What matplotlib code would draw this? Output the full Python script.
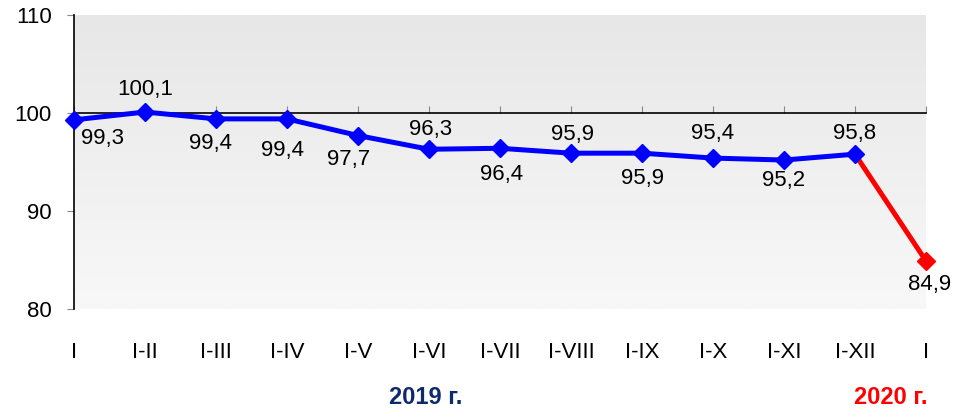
import numpy as np
import matplotlib
matplotlib.use('Agg')
import matplotlib.pyplot as plt
from matplotlib.colors import LinearSegmentedColormap

plt.rcParams['font.family'] = ['Liberation Sans', 'DejaVu Sans']

# data
periods = ['I', 'I-II', 'I-III', 'I-IV', 'I-V', 'I-VI', 'I-VII', 'I-VIII',
           'I-IX', 'I-X', 'I-XI', 'I-XII', 'I']
values_2019 = [99.3, 100.1, 99.4, 99.4, 97.7, 96.3, 96.4, 95.9, 95.9, 95.4, 95.2, 95.8]
values_2020 = [84.9]
y_ticks = [80, 90, 100, 110]

# where each value label goes (pixel offsets from the point)
label_offsets = [(28, -19), (0, 23), (-5, -25), (-4, -32), (-9, -24), (2, 20),
                 (2, -26), (2, 19), (0, -25), (0, 25), (0, -20), (0, 21), (4, -24)]

x = np.arange(len(periods))
x19 = x[:len(values_2019)]
x20 = x[len(values_2019):]

fig = plt.figure(figsize=(9.56, 4.12), dpi=100)
ax = fig.add_axes([74/956, 1-309/412, (926-74)/956, (309-15)/412])

# gradient background
grad = np.linspace(0, 1, 256).reshape(-1, 1)
cmap = LinearSegmentedColormap.from_list('bg', ['#e7e7e7', '#f8f8f8'])
ax.imshow(grad, extent=[0, 12, 80, 110], aspect='auto', cmap=cmap, origin='upper', zorder=0)

ax.set_xlim(0, 12)
ax.set_ylim(80, 110)

# red segment 2019 -> 2020
ax.plot([x19[-1], x20[0]], [values_2019[-1], values_2020[0]], color='#ff0000', lw=3.6,
        zorder=3, solid_capstyle='butt', clip_on=False)
ax.plot(x20, values_2020, 'D', color='#ff0000', ms=9, zorder=4, clip_on=False)
ax.plot(x19, values_2019, '-D', color='#0000ff', lw=3.6, ms=9, zorder=5, clip_on=False)

all_vals = values_2019 + values_2020
for xi, v, off in zip(x, all_vals, label_offsets):
    ax.annotate(('%.1f' % v).replace('.', ','), (xi, v), xytext=off,
                textcoords='offset pixels', ha='center', va='center',
                fontsize=16, color='#000000', zorder=6, annotation_clip=False)

# spines / ticks
for s in ['top', 'right', 'bottom']:
    ax.spines[s].set_visible(False)
ax.spines['left'].set_color('black')
ax.spines['left'].set_linewidth(1.2)
ax.set_yticks(y_ticks)
ax.tick_params(axis='y', direction='out', length=5, color='#888888', labelsize=16, pad=11)
ax.set_xticks(x)
ax.set_xticklabels(periods)
ax.tick_params(axis='x', length=0, labelsize=16, pad=24)

# horizontal axis line at 100 with up-pointing ticks
sec = ax.secondary_xaxis((100 - 80) / 30)
sec.set_xticks(x)
sec.tick_params(direction='out', length=5, color='#888888', labeltop=False, labelbottom=False)
sec.spines['top'].set_color('black')
sec.spines['top'].set_linewidth(1.2)
sec.spines['bottom'].set_visible(False)

fig.text(426/956, 1-397/412, '2019 г.', color='#0d2a6b', fontsize=17, fontweight='bold',
         ha='center', va='center')
fig.text(891/956, 1-397/412, '2020 г.', color='#ff0000', fontsize=17, fontweight='bold',
         ha='center', va='center')

fig.savefig('out.png', dpi=100)
